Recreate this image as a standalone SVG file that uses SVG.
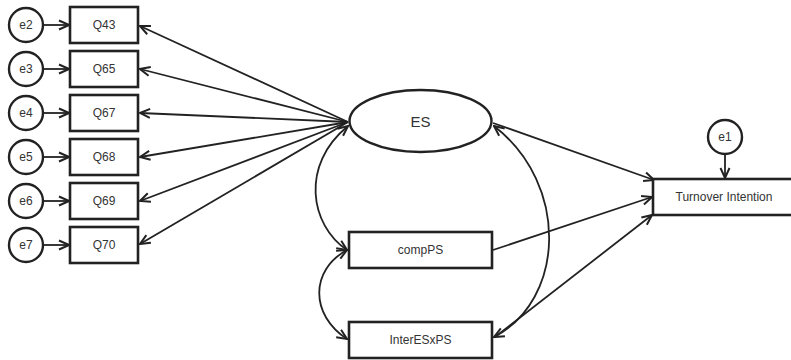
<svg xmlns="http://www.w3.org/2000/svg" width="791" height="360" viewBox="0 0 791 360">
<defs>
<style>
.box{fill:#fff;stroke:#222;stroke-width:2.6}
.circ{fill:#fff;stroke:#222;stroke-width:2.4}
.lbl{font-family:"Liberation Sans",Arial,sans-serif;font-size:12px;fill:#333;text-anchor:middle;dominant-baseline:central}
.big{font-size:15px}
.con{fill:none;stroke:#222;stroke-width:1.8}
.arr{marker-end:url(#ah)}
.dbl{marker-start:url(#ahs);marker-end:url(#ah)}
</style>
<marker id="ah" viewBox="0 0 12 12" refX="11" refY="6" markerWidth="12" markerHeight="12" markerUnits="userSpaceOnUse" orient="auto">
<path d="M1,1.5 L11,6 L1,10.5" fill="none" stroke="#222" stroke-width="2"/>
</marker>
<marker id="ahs" viewBox="0 0 12 12" refX="11" refY="6" markerWidth="12" markerHeight="12" markerUnits="userSpaceOnUse" orient="auto-start-reverse">
<path d="M1,1.5 L11,6 L1,10.5" fill="none" stroke="#222" stroke-width="2"/>
</marker>
</defs>
<rect width="791" height="360" fill="#fff"/>
<g id="connectors">
<line class="con arr" x1="43" y1="25" x2="69" y2="25"/>
<line class="con arr" x1="43" y1="69" x2="69" y2="69"/>
<line class="con arr" x1="43" y1="113" x2="69" y2="113"/>
<line class="con arr" x1="43" y1="157" x2="69" y2="157"/>
<line class="con arr" x1="43" y1="201" x2="69" y2="201"/>
<line class="con arr" x1="43" y1="245" x2="69" y2="245"/>
<line class="con arr" x1="348" y1="122" x2="140" y2="26"/>
<line class="con arr" x1="348" y1="122" x2="140" y2="69"/>
<line class="con arr" x1="348" y1="122" x2="140" y2="113"/>
<line class="con arr" x1="348" y1="122" x2="140" y2="157"/>
<line class="con arr" x1="348" y1="122" x2="140" y2="201"/>
<line class="con arr" x1="348" y1="122" x2="140" y2="244"/>
<line class="con arr" x1="493" y1="123" x2="654" y2="180"/>
<line class="con arr" x1="493" y1="250" x2="652" y2="197"/>
<line class="con arr" x1="495" y1="337" x2="652" y2="215"/>
<line class="con arr" x1="725" y1="154" x2="725" y2="178"/>
<path class="con dbl" d="M348,126 C300,165 310,225 347,250"/>
<path class="con dbl" d="M494,126 C570,185 565,300 494,337"/>
<path class="con dbl" d="M347,250 C310,270 310,315 347,339"/>
</g>
<g id="e2"><circle class="circ" cx="26" cy="25" r="17"/><text class="lbl" x="26" y="25">e2</text></g>
<g id="e3"><circle class="circ" cx="26" cy="69" r="17"/><text class="lbl" x="26" y="69">e3</text></g>
<g id="e4"><circle class="circ" cx="26" cy="113" r="17"/><text class="lbl" x="26" y="113">e4</text></g>
<g id="e5"><circle class="circ" cx="26" cy="157" r="17"/><text class="lbl" x="26" y="157">e5</text></g>
<g id="e6"><circle class="circ" cx="26" cy="201" r="17"/><text class="lbl" x="26" y="201">e6</text></g>
<g id="e7"><circle class="circ" cx="26" cy="245" r="17"/><text class="lbl" x="26" y="245">e7</text></g>
<g id="Q43"><rect class="box" x="70" y="7" width="68" height="36"/><text class="lbl" x="104" y="25">Q43</text></g>
<g id="Q65"><rect class="box" x="70" y="51" width="68" height="36"/><text class="lbl" x="104" y="69">Q65</text></g>
<g id="Q67"><rect class="box" x="70" y="95" width="68" height="36"/><text class="lbl" x="104" y="113">Q67</text></g>
<g id="Q68"><rect class="box" x="70" y="139" width="68" height="36"/><text class="lbl" x="104" y="157">Q68</text></g>
<g id="Q69"><rect class="box" x="70" y="183" width="68" height="36"/><text class="lbl" x="104" y="201">Q69</text></g>
<g id="Q70"><rect class="box" x="70" y="227" width="68" height="36"/><text class="lbl" x="104" y="245">Q70</text></g>
<g id="ES"><ellipse class="circ" cx="420.5" cy="121" rx="71" ry="31"/><text class="lbl big" x="420.5" y="121">ES</text></g>
<g id="compPS"><rect class="box" x="349" y="232" width="143" height="36"/><text class="lbl" x="420.5" y="250">compPS</text></g>
<g id="InterESxPS"><rect class="box" x="349" y="322" width="143" height="36"/><text class="lbl" x="420.5" y="340">InterESxPS</text></g>
<g id="TurnoverIntention"><rect class="box" x="653" y="179" width="160" height="36"/><text class="lbl" x="724" y="197">Turnover Intention</text></g>
<g id="e1"><circle class="circ" cx="725" cy="137" r="17"/><text class="lbl" x="725" y="137">e1</text></g>
</svg>
